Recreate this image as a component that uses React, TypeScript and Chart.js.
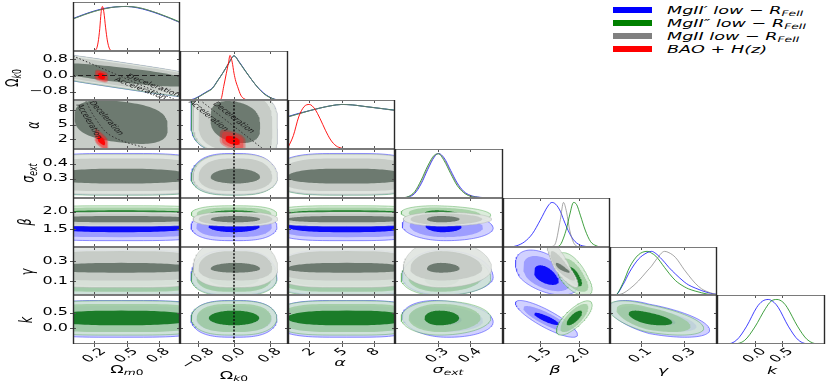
import React, { useEffect, useRef } from 'react';
import { Chart, registerables } from 'chart.js';

Chart.register(...registerables);

// ---------------- layout (not data) ----------------
const FIG_W = 831;
const FIG_H = 382;
const GRID_LEFT = 73;
const GRID_TOP = 2;
const CELL_W = 107.4;
const CELL_H = 48.9;
const TEXT_STRETCH = 1.6;
const FONT = '"DejaVu Sans", sans-serif';

// ---------------- axes ----------------
const COL_RANGE = [[0, 1], [-1.2, 1.2], [0, 10], [0.17, 0.5], [1.02, 2.4], [-0.04, 0.45], [-0.7, 1.3]];
const ROW_RANGE = [[0, 1], [-1.2, 1.2], [0, 10], [0.17, 0.5], [1.0, 2.39], [-0.043, 0.447], [-0.52, 1.08]];
const DENSITY_RANGE = [0, 1.1];
const TICK_VALUES = [[0.2, 0.5, 0.8], [-0.8, 0, 0.8], [2, 5, 8], [0.3, 0.4], [1.5, 2.0], [0.1, 0.3], [0, 0.5]];
const TICK_TEXT = [['0.2', '0.5', '0.8'], ['−0.8', '0.0', '0.8'], ['2', '5', '8'], ['0.3', '0.4'], ['1.5', '2.0'], ['0.1', '0.3'], ['0.0', '0.5']];

// ---------------- 1D marginal posteriors ----------------
const OM_GRID = [0, 0.1, 0.2, 0.3, 0.4, 0.5, 0.6, 0.7, 0.8, 0.9, 1.0];
const OM_BLUE = [0.73, 0.82, 0.9, 0.96, 0.99, 1.0, 0.97, 0.91, 0.83, 0.74, 0.64];
const OM_GREEN = [0.72, 0.81, 0.89, 0.95, 0.99, 1.0, 0.98, 0.92, 0.84, 0.75, 0.65];
const OM_GRAY = [0.72, 0.81, 0.89, 0.95, 0.99, 1.0, 0.98, 0.92, 0.84, 0.74, 0.64];
const OM_RED_GRID = [0.18, 0.215, 0.235, 0.25, 0.262, 0.275, 0.288, 0.305, 0.32, 0.335, 0.35, 0.38];
const OM_RED = [0, 0.03, 0.2, 0.5, 0.85, 1.0, 0.88, 0.52, 0.25, 0.09, 0.02, 0];

const OK_GRID = [-1.2, -0.95, -0.8, -0.7, -0.6, -0.48, -0.36, -0.24, -0.12, 0, 0.12, 0.24, 0.36, 0.48, 0.6, 0.72, 0.84, 0.97, 1.2];
const OK_BLUE = [0, 0.01, 0.07, 0.13, 0.19, 0.27, 0.44, 0.62, 0.82, 0.99, 0.85, 0.67, 0.5, 0.34, 0.21, 0.11, 0.04, 0.005, 0];
const OK_GREEN = [0, 0, 0.06, 0.12, 0.18, 0.26, 0.44, 0.62, 0.82, 0.99, 0.84, 0.67, 0.5, 0.34, 0.2, 0.1, 0.04, 0, 0];
const OK_GRAY = [0, 0, 0.06, 0.12, 0.18, 0.26, 0.43, 0.62, 0.82, 0.99, 0.84, 0.66, 0.5, 0.34, 0.2, 0.1, 0.04, 0, 0];
const OK_RED_GRID = [-0.36, -0.29, -0.23, -0.17, -0.12, -0.09, -0.04, 0, 0.04, 0.08, 0.15, 0.22, 0.3];
const OK_RED = [0, 0.02, 0.3, 0.6, 0.85, 1.0, 0.85, 0.6, 0.42, 0.3, 0.11, 0.03, 0];

const AL_GRID = [0, 1, 2, 3, 4, 5, 6, 7, 8, 9, 10];
const AL_BLUE = [0.73, 0.8, 0.86, 0.92, 0.97, 1.0, 0.99, 0.96, 0.93, 0.9, 0.87];
const AL_GREEN = [0.72, 0.79, 0.86, 0.92, 0.97, 1.0, 0.99, 0.96, 0.93, 0.9, 0.87];
const AL_GRAY = [0.72, 0.79, 0.86, 0.92, 0.97, 1.0, 0.99, 0.96, 0.93, 0.9, 0.86];
const AL_RED_GRID = [0, 0.5, 1, 1.5, 2, 2.5, 3, 3.5, 4, 4.5, 5, 5.5, 6];
const AL_RED = [0.03, 0.3, 0.72, 0.95, 1.0, 0.9, 0.68, 0.42, 0.2, 0.07, 0.02, 0, 0];

const SE_GRID = [0.17, 0.19, 0.21, 0.23, 0.25, 0.27, 0.29, 0.303, 0.32, 0.34, 0.36, 0.38, 0.4, 0.43, 0.47, 0.5];
const SE_BLUE = [0, 0, 0.02, 0.1, 0.32, 0.64, 0.92, 1.0, 0.9, 0.62, 0.34, 0.15, 0.06, 0.015, 0, 0];
const SE_GREEN = [0, 0.005, 0.03, 0.14, 0.4, 0.72, 0.96, 0.99, 0.84, 0.55, 0.28, 0.12, 0.04, 0.01, 0, 0];
const SE_GRAY = [0, 0.003, 0.025, 0.12, 0.36, 0.68, 0.94, 1.0, 0.87, 0.58, 0.31, 0.13, 0.05, 0.012, 0, 0];

const BE_GRID = [1.02, 1.1, 1.2, 1.3, 1.4, 1.5, 1.6, 1.65, 1.7, 1.76, 1.8, 1.84, 1.88, 1.93, 1.97, 2.02, 2.08, 2.15, 2.22, 2.3, 2.4];
const BE_BLUE = [0, 0, 0.03, 0.12, 0.3, 0.6, 0.92, 1.0, 0.96, 0.8, 0.62, 0.45, 0.3, 0.16, 0.09, 0.04, 0.015, 0, 0, 0, 0];
const BE_GRAY = [0, 0, 0, 0, 0, 0, 0, 0.01, 0.1, 0.62, 1.0, 0.78, 0.38, 0.1, 0.02, 0, 0, 0, 0, 0, 0];
const BE_GREEN = [0, 0, 0, 0, 0, 0, 0, 0, 0, 0.05, 0.2, 0.42, 0.72, 1.0, 0.95, 0.7, 0.38, 0.12, 0.03, 0, 0];

const GA_GRID = [-0.04, -0.016, 0.02, 0.05, 0.09, 0.13, 0.15, 0.17, 0.21, 0.23, 0.26, 0.3, 0.32, 0.35, 0.38, 0.42, 0.45];
const GA_BLUE = [0, 0, 0.24, 0.53, 0.82, 0.97, 1.0, 0.95, 0.75, 0.63, 0.48, 0.3, 0.23, 0.16, 0.1, 0.04, 0.015];
const GA_GREEN = [0, 0, 0.28, 0.64, 0.92, 1.0, 0.96, 0.89, 0.63, 0.5, 0.33, 0.19, 0.14, 0.09, 0.05, 0.01, 0];
const GA_GRAY = [0, 0, 0.04, 0.14, 0.32, 0.55, 0.66, 0.8, 1.0, 0.97, 0.86, 0.58, 0.45, 0.27, 0.14, 0.05, 0.01];

const KA_BLUE_GRID = [-0.7, -0.52, -0.335, -0.15, 0.035, 0.14, 0.25, 0.36, 0.435, 0.62, 0.805, 1.02, 1.3];
const KA_BLUE = [0, 0, 0.09, 0.4, 0.82, 0.96, 1.0, 0.93, 0.82, 0.4, 0.09, 0, 0];
const KA_GREEN_GRID = [-0.7, -0.43, -0.19, 0.0, 0.2, 0.3, 0.41, 0.52, 0.6, 0.79, 0.97, 1.18, 1.3];
const KA_GREEN = [0, 0, 0.08, 0.38, 0.8, 0.96, 1.0, 0.94, 0.82, 0.4, 0.1, 0, 0];

// ---------------- 2D credible regions (centre, half-widths 68/95/99 %) ----------------
const CENTER_BLUE = [0.45, 0.0, 5.5, 0.31, 1.58, 0.14, 0.3];
const CENTER_GREEN = [0.45, 0.0, 5.5, 0.305, 1.94, 0.125, 0.33];
const CENTER_GRAY = [0.45, 0.03, 5.5, 0.31, 1.79, 0.225, NaN];
const CENTER_RED = [0.265, -0.03, 1.75, NaN, NaN, NaN, NaN];

const WIDTH_BLUE = [[0.7, 0.82, 0.91], [0.57, 0.84, 0.955], [5.6, 6.4, 7.0], [0.055, 0.112, 0.139], [0.16, 0.3, 0.4], [0.1, 0.18, 0.23], [0.2, 0.42, 0.6]];
const WIDTH_GREEN = [[0.7, 0.82, 0.905], [0.56, 0.83, 0.95], [5.6, 6.4, 7.0], [0.053, 0.11, 0.137], [0.1, 0.18, 0.23], [0.1, 0.17, 0.22], [0.24, 0.46, 0.56]];
const WIDTH_GRAY = [[0.7, 0.82, 0.9], [0.55, 0.82, 0.94], [5.6, 6.4, 7.0], [0.05, 0.11, 0.135], [0.09, 0.16, 0.2], [0.05, 0.15, 0.24], [0, 0, 0]];
const WIDTH_RED = [[0.035, 0.055, 0.065], [0.16, 0.24, 0.29], [0.9, 1.6, 2.0], [0, 0, 0], [0, 0, 0], [0, 0, 0], [0, 0, 0]];

const SKEW = [0, 0, 0, 0.15, 0, 0.2, 0];
const POWER_INNER = [2.5, 2, 3, 2, 2, 2, 2];
const POWER_OUTER = [4, 3, 4, 2, 2, 2, 2];
// [row, col, x-scale, y-scale] of the 68 % region in panels where it is narrower
const INNER_SCALE = [[2, 0, 0.62, 0.77], [2, 1, 1, 0.76]];

// correlations [row, col, rho]
const RHO_BLUE = [[1, 0, -0.75], [2, 0, -0.25], [2, 1, -0.2], [4, 3, -0.1], [5, 4, -0.5], [6, 3, -0.15], [6, 4, -0.85], [6, 5, -0.6]];
const RHO_GREEN = [[1, 0, -0.75], [2, 0, -0.25], [2, 1, -0.2], [4, 3, -0.15], [5, 4, -0.6], [6, 4, 0.75], [6, 5, -0.6]];
const RHO_GRAY = [[1, 0, -0.75], [2, 0, -0.25], [2, 1, -0.2], [5, 4, -0.85]];
const RHO_RED = [[1, 0, -0.3], [2, 0, -0.6], [2, 1, -0.4]];

// reference lines
const OK_FLAT = 0;
const DECEL_OM_OK_X = [0, 1];
const DECEL_OM_OK_Y = [0.96, -1.29];
const DECEL_OM_AL_X = [0.1, 0.22, 0.36, 0.72];
const DECEL_OM_AL_Y = [10.6, 5.9, 2.65, -0.1];
const DECEL_OK_AL_X = [-0.76, 0.62];
const DECEL_OK_AL_Y = [10, 0.2];

const ANNOTATIONS = [
  { r: 1, c: 0, text: 'Deceleration', x: 0.75, y: -0.5, angle: 21 },
  { r: 1, c: 0, text: 'Acceleration', x: 0.63, y: -0.65, angle: 21 },
  { r: 2, c: 0, text: 'Acceleration', x: 0.15, y: 5.6, angle: 59 },
  { r: 2, c: 0, text: 'Deceleration', x: 0.31, y: 6.3, angle: 48 },
  { r: 2, c: 1, text: 'Acceleration', x: -0.57, y: 6.8, angle: 39 },
  { r: 2, c: 1, text: 'Deceleration', x: -0.01, y: 6.4, angle: 38 },
];

const LEGEND_LABELS = ['MgII′ low − R', 'MgII″ low − R', 'MgII low − R', 'BAO + H(z)'];
const LEGEND_SUBS = ['FeII', 'FeII', 'FeII', ''];
const LEGEND_COLORS = ['#0000ff', '#008000', '#808080', '#ff0000'];

// ---------------- styles ----------------
const BLUE_FILLS = ['rgba(0,0,250,0.93)', 'rgba(0,0,255,0.25)', 'rgba(0,0,255,0.18)'];
const GREEN_FILLS = ['rgba(16,118,30,0.92)', 'rgba(150,200,150,0.72)', 'rgba(205,230,205,0.72)'];
const GRAY_FILLS = ['rgba(104,117,107,0.95)', 'rgba(196,202,196,0.92)', 'rgba(226,230,226,0.95)'];
const RED_FILLS = ['rgba(255,0,0,0.95)', 'rgba(250,40,40,0.45)', 'rgba(255,0,0,0.28)'];
const LINE_COLORS: any = { blue: 'rgba(0,0,255,0.75)', green: 'rgba(0,128,0,0.75)', gray: 'rgba(128,128,128,0.7)', red: 'rgba(255,0,0,0.9)' };

const SERIES = [
  { centers: CENTER_BLUE, widths: WIDTH_BLUE, rho: RHO_BLUE, fills: BLUE_FILLS, edge: 'rgba(70,70,255,0.75)' },
  { centers: CENTER_GREEN, widths: WIDTH_GREEN, rho: RHO_GREEN, fills: GREEN_FILLS, edge: 'rgba(60,160,60,0.5)' },
  { centers: CENTER_GRAY, widths: WIDTH_GRAY, rho: RHO_GRAY, fills: GRAY_FILLS, edge: 'rgba(170,175,170,0.5)' },
  { centers: CENTER_RED, widths: WIDTH_RED, rho: RHO_RED, fills: RED_FILLS, edge: '' },
];

const DIAG: any[] = [
  [[OM_GRID, OM_BLUE, 'blue'], [OM_GRID, OM_GREEN, 'green'], [OM_GRID, OM_GRAY, 'gray'], [OM_RED_GRID, OM_RED, 'red']],
  [[OK_GRID, OK_BLUE, 'blue'], [OK_GRID, OK_GREEN, 'green'], [OK_GRID, OK_GRAY, 'gray'], [OK_RED_GRID, OK_RED, 'red']],
  [[AL_GRID, AL_BLUE, 'blue'], [AL_GRID, AL_GREEN, 'green'], [AL_GRID, AL_GRAY, 'gray'], [AL_RED_GRID, AL_RED, 'red']],
  [[SE_GRID, SE_BLUE, 'blue'], [SE_GRID, SE_GREEN, 'green'], [SE_GRID, SE_GRAY, 'gray']],
  [[BE_GRID, BE_BLUE, 'blue'], [BE_GRID, BE_GRAY, 'gray'], [BE_GRID, BE_GREEN, 'green']],
  [[GA_GRID, GA_BLUE, 'blue'], [GA_GRID, GA_GREEN, 'green'], [GA_GRID, GA_GRAY, 'gray']],
  [[KA_BLUE_GRID, KA_BLUE, 'blue'], [KA_GREEN_GRID, KA_GREEN, 'green']],
];

function rhoOf(list: number[][], r: number, c: number) {
  const e = list.find((t) => t[0] === r && t[1] === c);
  return e ? e[2] : 0;
}

function innerScale(r: number, c: number) {
  const e = INNER_SCALE.find((t) => t[0] === r && t[1] === c);
  return e ? [e[2], e[3]] : [1, 1];
}

function contourPolygon(cx: number, cy: number, wx: number, wy: number, rho: number, px: number, py: number, skx: number, sky: number) {
  const pts: { x: number; y: number }[] = [];
  const M = 120;
  const k = Math.sqrt(Math.max(0, 1 - rho * rho));
  for (let i = 0; i <= M; i++) {
    const t = (2 * Math.PI * i) / M;
    const co = Math.cos(t);
    const si = Math.sin(t);
    const C = Math.sign(co) * Math.pow(Math.abs(co), 2 / px);
    const S = Math.sign(si) * Math.pow(Math.abs(si), 2 / py);
    const u = rho * C + k * S;
    pts.push({
      x: cx + wx * C * (C > 0 ? 1 + skx : 1 - skx),
      y: cy + wy * u * (u > 0 ? 1 + sky : 1 - sky),
    });
  }
  return pts;
}

function drawStretched(ctx: any, text: string, x: number, y: number, rot: number, align: string, baseline: string) {
  ctx.save();
  ctx.translate(x, y);
  ctx.scale(TEXT_STRETCH, 1);
  ctx.rotate(rot);
  ctx.textAlign = align;
  ctx.textBaseline = baseline;
  ctx.fillText(text, 0, 0);
  ctx.restore();
}

function makeDecor(r: number, c: number) {
  const diag = r === c;
  const texts = ANNOTATIONS.filter((a) => a.r === r && a.c === c);
  return {
    id: `decor_${r}_${c}`,
    afterDraw(chart: any) {
      const { ctx, chartArea: a, scales } = chart;
      const xs = scales.x;
      const ys = scales.y;
      const seg = (x1: number, y1: number, x2: number, y2: number) => {
        ctx.beginPath();
        ctx.moveTo(x1, y1);
        ctx.lineTo(x2, y2);
        ctx.stroke();
      };
      ctx.save();
      ctx.save();
      ctx.beginPath();
      ctx.rect(a.left, a.top, a.right - a.left, a.bottom - a.top);
      ctx.clip();
      ctx.fillStyle = '#1a1a1a';
      ctx.font = `6px ${FONT}`;
      for (const t of texts) {
        const th = Math.atan(TEXT_STRETCH * Math.tan((t.angle * Math.PI) / 180));
        drawStretched(ctx, t.text, xs.getPixelForValue(t.x), ys.getPixelForValue(t.y), th, 'center', 'middle');
      }
      ctx.restore();

      ctx.strokeStyle = '#555';
      ctx.lineWidth = 1;
      for (const v of TICK_VALUES[c]) {
        const X = Math.round(xs.getPixelForValue(v)) + 0.5;
        seg(X, a.top, X, a.top + 3);
        seg(X, a.bottom, X, a.bottom - 3);
        if (r === 6) seg(X, a.bottom, X, a.bottom + 3);
      }
      if (!diag) {
        for (const v of TICK_VALUES[r]) {
          const Y = Math.round(ys.getPixelForValue(v)) + 0.5;
          seg(a.left, Y, a.left + 3, Y);
          seg(a.right, Y, a.right - 3, Y);
          if (c === 0) seg(a.left - 3, Y, a.left, Y);
        }
      }
      ctx.strokeStyle = '#7a7a7a';
      ctx.lineWidth = 1.2;
      seg(a.left, a.top + 0.5, a.right, a.top + 0.5);
      seg(a.left, a.bottom - 0.5, a.right, a.bottom - 0.5);
      ctx.strokeStyle = '#2a2a2a';
      ctx.lineWidth = 1.4;
      seg(a.left + 0.5, a.top, a.left + 0.5, a.bottom);
      seg(a.right - 0.5, a.top, a.right - 0.5, a.bottom);

      ctx.fillStyle = '#000';
      ctx.font = `10px ${FONT}`;
      if (c === 0 && r > 0) {
        TICK_VALUES[r].forEach((v, i) =>
          drawStretched(ctx, TICK_TEXT[r][i], a.left - 5, ys.getPixelForValue(v), 0, 'right', 'middle')
        );
      }
      if (r === 6) {
        TICK_VALUES[c].forEach((v, i) => {
          const txt = TICK_TEXT[c][i];
          const w = ctx.measureText(txt).width;
          drawStretched(ctx, txt, xs.getPixelForValue(v) + 0.3535 * TEXT_STRETCH * w, a.bottom + 6, -Math.PI / 4, 'right', 'middle');
        });
      }
      ctx.restore();
    },
  };
}

function buildDatasets(r: number, c: number) {
  const datasets: any[] = [];
  const add = (ds: any) =>
    datasets.push({ pointRadius: 0, pointHoverRadius: 0, tension: 0, fill: false, borderWidth: 0, borderColor: 'rgba(0,0,0,0)', ...ds });
  if (r === c) {
    for (const [gx, gy, key] of DIAG[c]) {
      add({
        data: gx.map((x: number, i: number) => ({ x, y: gy[i] })),
        borderColor: LINE_COLORS[key],
        borderWidth: 1,
        cubicInterpolationMode: 'monotone',
      });
    }
    return datasets;
  }
  const [isx, isy] = innerScale(r, c);
  for (const s of SERIES) {
    const cx = s.centers[c];
    const cy = s.centers[r];
    if (!Number.isFinite(cx) || !Number.isFinite(cy)) continue;
    const rho = rhoOf(s.rho, r, c);
    for (let L = 2; L >= 0; L--) {
      const px = L === 0 ? POWER_INNER[c] : POWER_OUTER[c];
      const py = L === 0 ? POWER_INNER[r] : POWER_OUTER[r];
      const fx = L === 0 && s !== SERIES[3] ? isx : 1;
      const fy = L === 0 && s !== SERIES[3] ? isy : 1;
      add({
        data: contourPolygon(cx, cy, s.widths[c][L] * fx, s.widths[r][L] * fy, rho, px, py, SKEW[c], SKEW[r]),
        fill: 'shape',
        backgroundColor: s.fills[L],
        borderColor: L === 2 && s.edge ? s.edge : 'rgba(0,0,0,0)',
        borderWidth: L === 2 && s.edge ? 0.8 : 0,
      });
    }
  }
  const dotted = { borderColor: '#333', borderWidth: 1, borderDash: [1.5, 2] };
  if (r === 1 && c === 0) {
    add({ data: [{ x: -1, y: OK_FLAT }, { x: 2, y: OK_FLAT }], borderColor: '#222', borderWidth: 1.2, borderDash: [5, 3] });
    add({ data: DECEL_OM_OK_X.map((x, i) => ({ x, y: DECEL_OM_OK_Y[i] })), ...dotted });
  }
  if (r === 2 && c === 0) {
    add({ data: DECEL_OM_AL_X.map((x, i) => ({ x, y: DECEL_OM_AL_Y[i] })), ...dotted, tension: 0.4 });
  }
  if (r === 2 && c === 1) {
    add({ data: DECEL_OK_AL_X.map((x, i) => ({ x, y: DECEL_OK_AL_Y[i] })), ...dotted });
  }
  if (c === 1 && r >= 2) {
    add({ data: [{ x: OK_FLAT, y: -100 }, { x: OK_FLAT, y: 100 }], borderColor: '#111', borderWidth: 1.5, borderDash: [2, 1.5] });
  }
  return datasets;
}

type Panel = { r: number; c: number; left: number; top: number; width: number; height: number; padL: number; padR: number; padT: number; padB: number };

const PANELS: Panel[] = [];
for (let r = 0; r < 7; r++) {
  for (let c = 0; c <= r; c++) {
    const left = Math.round(GRID_LEFT + c * CELL_W);
    const right = Math.round(GRID_LEFT + (c + 1) * CELL_W);
    const top = Math.round(GRID_TOP + r * CELL_H);
    const bottom = Math.round(GRID_TOP + (r + 1) * CELL_H);
    PANELS.push({
      r, c, left, top, width: right - left, height: bottom - top,
      padL: c === 0 && r > 0 ? 50 : 3, padR: 3, padT: 3, padB: r === 6 ? 32 : 3,
    });
  }
}

function buildConfig(p: Panel): any {
  const datasets = buildDatasets(p.r, p.c);
  datasets.forEach((d, i) => (d.order = -i));
  const yr = p.r === p.c ? DENSITY_RANGE : ROW_RANGE[p.r];
  return {
    type: 'line',
    data: { datasets },
    options: {
      animation: false,
      responsive: false,
      events: [],
      layout: { padding: { left: p.padL, right: p.padR, top: p.padT, bottom: p.padB } },
      scales: {
        x: { type: 'linear', min: COL_RANGE[p.c][0], max: COL_RANGE[p.c][1], display: false },
        y: { type: 'linear', min: yr[0], max: yr[1], display: false },
      },
      plugins: { legend: { display: false }, tooltip: { enabled: false } },
    },
    plugins: [makeDecor(p.r, p.c)],
  };
}

// axis label positions
const LEFT_LABELS = [
  { row: 1, x: 12, y: 78 },
  { row: 2, x: 33, y: 125 },
  { row: 3, x: 28, y: 173 },
  { row: 4, x: 25, y: 222 },
  { row: 5, x: 27, y: 272 },
  { row: 6, x: 26, y: 320 },
];
const BOTTOM_LABELS = [
  { col: 0, x: 127, y: 369 },
  { col: 1, x: 234, y: 375 },
  { col: 2, x: 340, y: 362 },
  { col: 3, x: 448, y: 369 },
  { col: 4, x: 555, y: 369 },
  { col: 5, x: 663, y: 370 },
  { col: 6, x: 772, y: 370 },
];

function ParamLabel({ idx }: { idx: number }) {
  const subStyle: any = { fontSize: '70%', verticalAlign: '-0.3em', lineHeight: 0 };
  if (idx === 0) return (<span>Ω<sub style={subStyle}><i>m</i>0</sub></span>);
  if (idx === 1) return (<span>Ω<sub style={subStyle}><i>k</i>0</sub></span>);
  if (idx === 2) return (<i>α</i>);
  if (idx === 3) return (<span><i>σ</i><sub style={subStyle}><i>ext</i></sub></span>);
  if (idx === 4) return (<i>β</i>);
  if (idx === 5) return (<i>γ</i>);
  return (<i>k</i>);
}

function Placed({ x, y, rot, children }: any) {
  return (
    <div style={{ position: 'absolute', left: x, top: y, width: 0, height: 0 }}>
      <div
        style={{
          position: 'absolute', left: 0, top: 0, transformOrigin: '0 0',
          transform: `scaleX(${TEXT_STRETCH}) rotate(${rot}deg) translate(-50%, -50%)`,
          whiteSpace: 'nowrap', fontSize: 11, lineHeight: 1, fontFamily: FONT, color: '#000',
        }}
      >
        {children}
      </div>
    </div>
  );
}

export default function App() {
  const canvasRefs = useRef<(HTMLCanvasElement | null)[]>([]);
  useEffect(() => {
    const charts = PANELS.map((p, i) => {
      const el = canvasRefs.current[i];
      return el ? new Chart(el, buildConfig(p)) : null;
    });
    return () => charts.forEach((ch) => ch && ch.destroy());
  }, []);

  return (
    <div style={{ position: 'absolute', left: 0, top: 0, width: FIG_W, height: FIG_H, background: '#fff', overflow: 'hidden', fontFamily: FONT }}>
      {PANELS.map((p, i) => {
        const w = p.width + p.padL + p.padR;
        const h = p.height + p.padT + p.padB;
        return (
          <canvas
            key={i}
            ref={(el) => { canvasRefs.current[i] = el; }}
            width={w}
            height={h}
            style={{ position: 'absolute', left: p.left - p.padL, top: p.top - p.padT, width: w, height: h }}
          />
        );
      })}
      {LEFT_LABELS.map((l) => (
        <Placed key={'l' + l.row} x={l.x} y={l.y} rot={-90}><ParamLabel idx={l.row} /></Placed>
      ))}
      {BOTTOM_LABELS.map((l) => (
        <Placed key={'b' + l.col} x={l.x} y={l.y} rot={0}><ParamLabel idx={l.col} /></Placed>
      ))}
      {LEGEND_LABELS.map((lab, i) => {
        const cy = [10, 23.3, 36.3, 49.3][i];
        return (
          <React.Fragment key={'lg' + i}>
            <div style={{ position: 'absolute', left: 613, top: cy - 3, width: 39, height: 6, background: LEGEND_COLORS[i] }} />
            <div
              style={{
                position: 'absolute', left: 667, top: cy, transformOrigin: '0 0',
                transform: `scaleX(${TEXT_STRETCH}) translateY(-50%)`,
                fontStyle: 'italic', fontSize: 11, lineHeight: 1, whiteSpace: 'nowrap', fontFamily: FONT, color: '#000',
              }}
            >
              {lab}
              {LEGEND_SUBS[i] ? (<sub style={{ fontSize: '70%', verticalAlign: '-0.3em', lineHeight: 0 }}>{LEGEND_SUBS[i]}</sub>) : null}
            </div>
          </React.Fragment>
        );
      })}
    </div>
  );
}
